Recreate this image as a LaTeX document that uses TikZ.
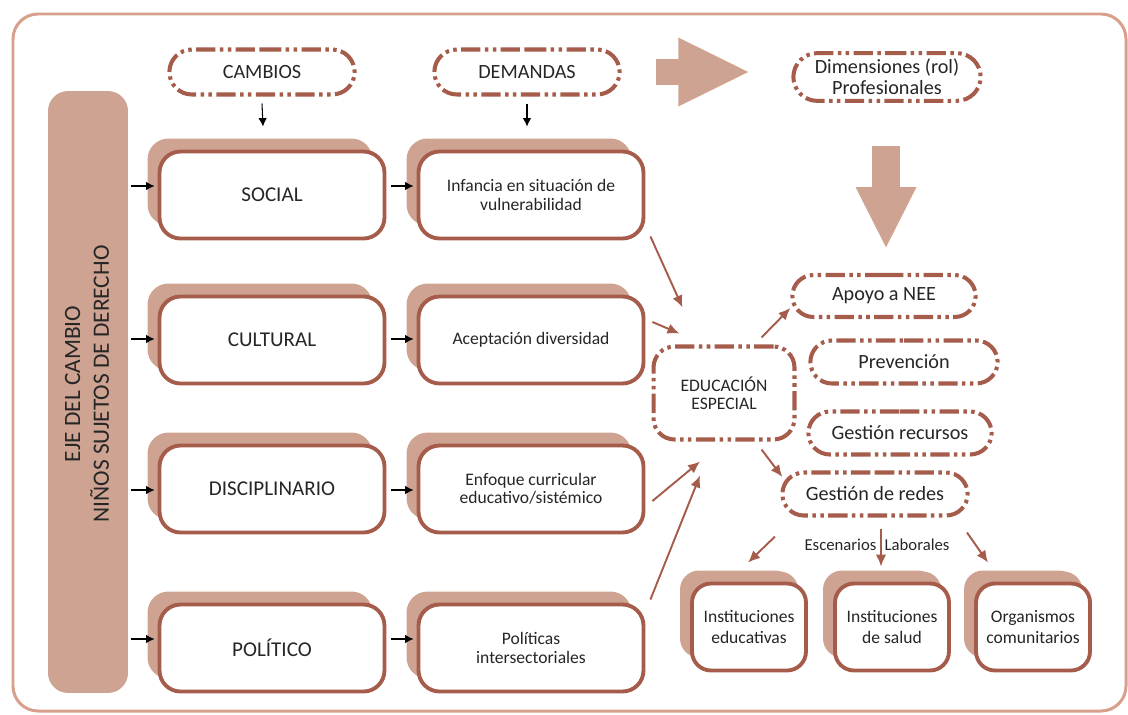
\documentclass[tikz,border=0pt]{standalone}
\usepackage{fontspec}
\setmainfont{Carlito}
\usepackage{tikz}
\usetikzlibrary{arrows.meta,calc,shadows,shapes.misc}

\definecolor{marron}{RGB}{166,92,74}
\definecolor{rosa}{RGB}{206,163,146}
\definecolor{marco}{RGB}{216,160,140}
\definecolor{texto}{RGB}{38,38,38}

\tikzset{
	caja/.style={draw=marron,line width=2.2pt,rounded corners=0.42cm,fill=white,
		text=texto,align=center,minimum width=4.5cm,minimum height=1.74cm,
		general shadow={fill=rosa,shadow xshift=-0.24cm,shadow yshift=0.26cm}},
	cajita/.style={caja,rounded corners=0.38cm,minimum width=2.28cm,minimum height=1.74cm,
		general shadow={fill=rosa,shadow xshift=-0.15cm,shadow yshift=0.24cm}},
	pildora/.style={rounded rectangle,draw=marron,line width=2.3pt,text=texto,align=center,
		dash pattern=on 11pt off 2.5pt on 2pt off 2.5pt on 2pt off 2.5pt},
	flecha/.style={-{Latex[length=1.7mm,width=1.7mm]},line width=0.6pt,black},
	flechab/.style={-{Latex[length=2.4mm,width=2.1mm]},line width=1.1pt,marron},
	gorda/.style={rosa,line width=#1}
}

\begin{document}
\begin{tikzpicture}[x=0.02cm,y=-0.02cm]
\useasboundingbox (0,0) rectangle (1128,714);
\draw[marco,line width=1.7pt,rounded corners=0.5cm] (13,14) rectangle (1126,711);
%
\node[fill=rosa,rounded corners=0.4cm,minimum width=1.6cm,minimum height=12.04cm] (bar) at (88,392) {};
\node[rotate=90,text=texto,align=center,font=\fontsize{13.3}{16.5}\selectfont] (eje) at (87,384)
	{EJE DEL CAMBIO\\NIÑOS SUJETOS DE DERECHO};
%
\node[pildora,minimum width=3.94cm,minimum height=0.9cm,font=\fontsize{11.5}{13}\selectfont] (cambios) at (262,72) {CAMBIOS};
\node[pildora,minimum width=3.94cm,minimum height=0.9cm,font=\fontsize{11.5}{13}\selectfont] (demandas) at (527,72) {DEMANDAS};
\node[pildora,minimum width=3.98cm,minimum height=0.94cm,font=\fontsize{11.5}{12}\selectfont] (dim) at (887,77) {Dimensiones (rol)\\Profesionales};
%
\node[caja,font=\fontsize{12}{14}\selectfont] (soc) at (272,195) {SOCIAL};
\node[caja,font=\fontsize{12}{14}\selectfont] (cul) at (272,340) {CULTURAL};
\node[caja,font=\fontsize{12}{14}\selectfont] (dis) at (272,489) {DISCIPLINARIO};
\node[caja,font=\fontsize{12}{14}\selectfont] (pol) at (272,648) {POLÍTICO};
%
\node[caja,font=\fontsize{10}{10.5}\selectfont] (inf) at (531,195) {Infancia en situación de\\vulnerabilidad};
\node[caja,font=\fontsize{10}{10.5}\selectfont] (ace) at (531,340) {Aceptación diversidad};
\node[caja,font=\fontsize{10}{10.5}\selectfont] (enf) at (531,489) {Enfoque curricular\\educativo/sistémico};
\node[caja,font=\fontsize{10}{10.5}\selectfont] (poli) at (531,648) {Políticas\\intersectoriales};
%
\node[pildora,rectangle,rounded corners=0.42cm,minimum width=2.82cm,minimum height=1.86cm,
	font=\fontsize{10}{10.5}\selectfont] (ee) at (724,393) {EDUCACIÓN\\ESPECIAL};
%
\node[pildora,minimum width=3.9cm,minimum height=0.84cm,font=\fontsize{11.5}{13}\selectfont] (apoyo) at (884,296) {Apoyo a NEE};
\node[pildora,minimum width=3.98cm,minimum height=0.86cm,font=\fontsize{11.5}{13}\selectfont] (prev) at (904,362) {Prevención};
\node[pildora,minimum width=3.9cm,minimum height=0.86cm,font=\fontsize{11.5}{13}\selectfont] (rec) at (900,433) {Gestión recursos};
\node[pildora,minimum width=3.94cm,minimum height=0.86cm,font=\fontsize{11.5}{13}\selectfont] (redes) at (875,494) {Gestión de redes};
%
\node[text=texto,font=\fontsize{9.5}{11}\selectfont] (esc) at (877,545) {Escenarios\enspace Laborales};
%
\node[cajita,font=\fontsize{10}{11.5}\selectfont] (b1) at (749,627) {Instituciones\\educativas};
\node[cajita,font=\fontsize{10}{11.5}\selectfont] (b2) at (892,627) {Instituciones\\de salud};
\node[cajita,font=\fontsize{10}{11.5}\selectfont] (b3) at (1033,627) {Organismos\\comunitarios};
%
\draw[gorda=0.52cm,-{Triangle[length=1.44cm,width=1.26cm]}] ($(demandas.east)+(34,0)$) -- ($(dim.west)+(-41,-5)$);
\draw[gorda=0.56cm,-{Triangle[length=1.24cm,width=1.12cm]}] ($(dim.south)+(-1,43)$) -- ($(apoyo.north)+(2,-24)$);
%
\draw[flecha] ($(cambios.south)+(0,7)$) -- ($(soc.north)+(-9,-23)$);
\draw[flecha] ($(demandas.south)+(0,7)$) -- ($(inf.north)+(-4,-23)$);
\foreach \a/\b/\dy in {soc/inf/-9,cul/ace/-1,dis/enf/1,pol/poli/-9} {
	\draw[flecha] ($(bar.east |- \a.west)+(3,\dy)$) -- ($(\a.west)+(-3,\dy)$);
	\draw[flecha] ($(\a.east)+(5,\dy)$) -- ($(\b.west)+(-3,\dy)$);
}
%
\draw[flechab] ($(inf.south east)+(5,-4)$) -- ($(ee.north west)+(31,-37)$);
\draw[flechab] ($(ace.east)+(7,-18)$) -- ($(ee.north west)+(28,-11)$);
\draw[flechab] ($(enf.east)+(7,12)$) -- ($(ee.south)+(-24,20)$);
\draw[flechab] ($(poli.north east)+(5,-3)$) -- ($(ee.south)+(-24,34)$);
\draw[flechab] ($(ee.north east)+(-35,-7)$) -- ($(apoyo.west)+(0,12)$);
\draw[flechab] ($(ee.south east)+(-35,8)$) -- ($(redes.west)+(2,-17)$);
%
\draw[flechab] ($(redes.south)+(-100,19)$) -- ($(b1.north)+(-1,-19)$);
\draw[flechab] ($(redes.south)+(6,11)$) -- ($(b2.north)+(-11,-15)$);
\draw[flechab] ($(redes.south)+(92,15)$) -- ($(b3.north)+(-45,-19)$);
\end{tikzpicture}
\end{document}
